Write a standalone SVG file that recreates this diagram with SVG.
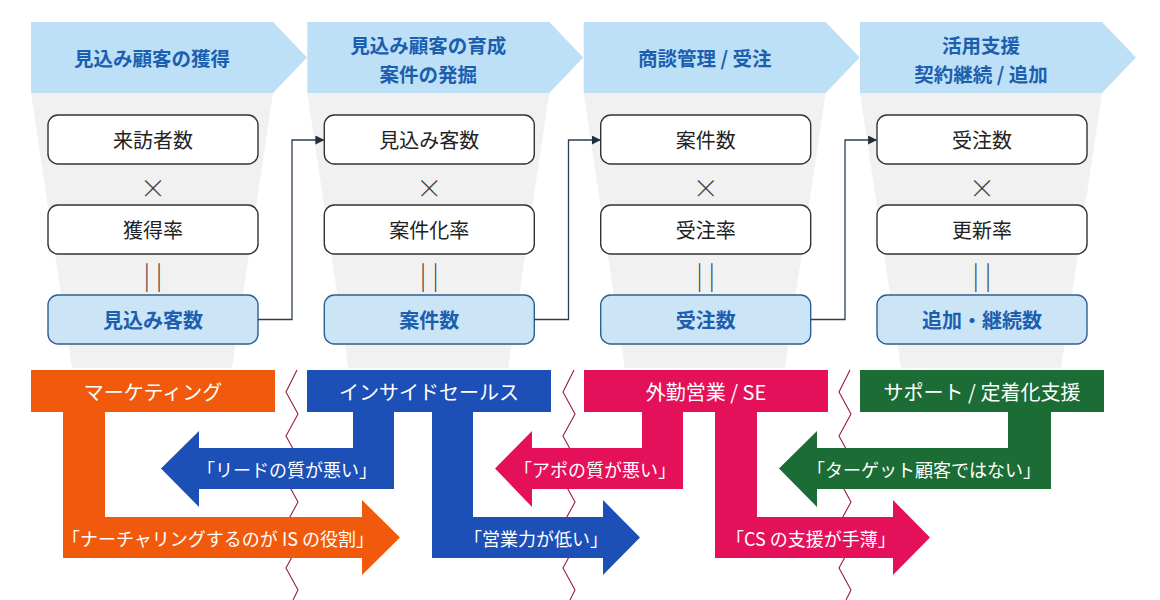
<svg xmlns="http://www.w3.org/2000/svg" width="1160" height="600" viewBox="0 0 1160 600">
<defs>
<style>
.hdr{fill:#bde0f7}
.fun{fill:#f1f1f1}
.box{fill:#ffffff;stroke:#333333;stroke-width:1.4}
.bbox{fill:#cbe5f7;stroke:#2f5f8f;stroke-width:1.4}
.t{font-family:'Noto Sans CJK JP','Noto Sans',sans-serif;text-anchor:middle;dominant-baseline:central}
.ht{font-size:19.5px;font-weight:700;fill:#1b5fae}
.bt{font-size:20px;fill:#222222}
.bbt{font-size:20px;font-weight:700;fill:#1b5fae}
.op{font-size:26px;font-weight:300;fill:#444444}
.wt{font-size:20px;fill:#ffffff}
.at{font-size:18px;fill:#ffffff}
.zz{fill:none;stroke:#9a1c46;stroke-width:1.1}
.con{fill:none;stroke:#2c3e50;stroke-width:1.3}
</style>
<marker id="ah" viewBox="0 0 10 10" refX="9" refY="5" markerWidth="9" markerHeight="9" markerUnits="userSpaceOnUse" orient="auto">
<path d="M0,0 L10,5 L0,10 Z" fill="#1f2d3d"/>
</marker>
</defs>
<rect width="1160" height="600" fill="#ffffff"/>

<g id="funnels">
<polygon class="fun" points="31,93 273,93 232,368 72,368"/>
<polygon class="fun" points="307.3,93 549.3,93 508.3,368 348.3,368"/>
<polygon class="fun" points="583.7,93 825.7,93 784.7,368 624.7,368"/>
<polygon class="fun" points="860,93 1102,93 1061,368 901,368"/>
</g>

<g id="header1">
<polygon class="hdr" points="31,22 273,22 307,57.5 273,93 31,93"/>
<text class="t ht" x="152" y="57.5">見込み顧客の獲得</text>
</g>
<g id="header2">
<polygon class="hdr" points="307.3,22 549.3,22 583.3,57.5 549.3,93 307.3,93"/>
<text class="t ht" x="428.3" y="44.5">見込み顧客の育成</text>
<text class="t ht" x="428.3" y="73">案件の発掘</text>
</g>
<g id="header3">
<polygon class="hdr" points="583.7,22 825.7,22 859.7,57.5 825.7,93 583.7,93"/>
<text class="t ht" x="704.7" y="57.5">商談管理 / 受注</text>
</g>
<g id="header4">
<polygon class="hdr" points="860,22 1102,22 1136,57.5 1102,93 860,93"/>
<text class="t ht" x="981" y="44.5">活用支援</text>
<text class="t ht" x="981" y="73">契約継続 / 追加</text>
</g>

<g id="c1-visitors"><rect class="box" x="48" y="115" width="210" height="49" rx="10"/><text class="t bt" x="153" y="139.5">来訪者数</text></g>
<text class="t op" x="153" y="186">×</text>
<g id="c1-rate"><rect class="box" x="48" y="205" width="210" height="49" rx="10"/><text class="t bt" x="153" y="229.5">獲得率</text></g>
<text class="t op" x="153" y="273">| |</text>
<g id="c1-result"><rect class="bbox" x="48" y="295" width="210" height="49" rx="10"/><text class="t bbt" x="153" y="319.5">見込み客数</text></g>

<g id="c2-prospects"><rect class="box" x="324.3" y="115" width="210" height="49" rx="10"/><text class="t bt" x="429.3" y="139.5">見込み客数</text></g>
<text class="t op" x="429.3" y="186">×</text>
<g id="c2-rate"><rect class="box" x="324.3" y="205" width="210" height="49" rx="10"/><text class="t bt" x="429.3" y="229.5">案件化率</text></g>
<text class="t op" x="429.3" y="273">| |</text>
<g id="c2-result"><rect class="bbox" x="324.3" y="295" width="210" height="49" rx="10"/><text class="t bbt" x="429.3" y="319.5">案件数</text></g>

<g id="c3-deals"><rect class="box" x="600.7" y="115" width="210" height="49" rx="10"/><text class="t bt" x="705.7" y="139.5">案件数</text></g>
<text class="t op" x="705.7" y="186">×</text>
<g id="c3-rate"><rect class="box" x="600.7" y="205" width="210" height="49" rx="10"/><text class="t bt" x="705.7" y="229.5">受注率</text></g>
<text class="t op" x="705.7" y="273">| |</text>
<g id="c3-result"><rect class="bbox" x="600.7" y="295" width="210" height="49" rx="10"/><text class="t bbt" x="705.7" y="319.5">受注数</text></g>

<g id="c4-orders"><rect class="box" x="877" y="115" width="210" height="49" rx="10"/><text class="t bt" x="982" y="139.5">受注数</text></g>
<text class="t op" x="982" y="186">×</text>
<g id="c4-rate"><rect class="box" x="877" y="205" width="210" height="49" rx="10"/><text class="t bt" x="982" y="229.5">更新率</text></g>
<text class="t op" x="982" y="273">| |</text>
<g id="c4-result"><rect class="bbox" x="877" y="295" width="210" height="49" rx="10"/><text class="t bbt" x="982" y="319.5">追加・継続数</text></g>

<g id="connectors">
<path class="con" d="M258,319.5 H292 V140 H323.5" marker-end="url(#ah)"/>
<path class="con" d="M534.3,319.5 H568.5 V140 H599.9" marker-end="url(#ah)"/>
<path class="con" d="M810.7,319.5 H845 V140 H876.2" marker-end="url(#ah)"/>
</g>

<g id="dividers">
<polyline class="zz" points="297,370 286,392 298,414 286,436 298,458 286,480 298,502 286,524 298,546 286,568 298,590 293,600"/>
<polyline class="zz" points="574,370 563,392 575,414 563,436 575,458 563,480 575,502 563,524 575,546 563,568 575,590 570,600"/>
<polyline class="zz" points="850,370 839,392 851,414 839,436 851,458 839,480 851,502 839,524 851,546 839,568 851,590 846,600"/>
</g>

<g id="marketing">
<rect x="31" y="370" width="244" height="42" fill="#f15a0c"/>
<path d="M63,412 H105 V517 H362 V500 L400,537.5 L362,575 V558 H63 Z" fill="#f15a0c"/>
<text class="t wt" x="153" y="391">マーケティング</text>
<text class="t at" x="218" y="537.5">「ナーチャリングするのが IS の役割」</text>
</g>

<g id="inside-sales">
<rect x="307" y="370" width="244" height="42" fill="#1c50b6"/>
<path d="M353,412 H394 V489 H199 V507 L161,468.5 L199,431 V448 H353 Z" fill="#1c50b6"/>
<path d="M432,412 H473 V517 H603 V500 L640,537.5 L603,575 V558 H432 Z" fill="#1c50b6"/>
<text class="t wt" x="429" y="391">インサイドセールス</text>
<text class="t at" x="287" y="468.5">「リードの質が悪い」</text>
<text class="t at" x="536" y="537.5">「営業力が低い」</text>
</g>

<g id="field-sales">
<rect x="584" y="370" width="244" height="42" fill="#e4115a"/>
<path d="M642,412 H683 V489 H532 V507 L495,468.5 L532,431 V448 H642 Z" fill="#e4115a"/>
<path d="M715,412 H757 V517 H893 V500 L930,537.5 L893,575 V558 H715 Z" fill="#e4115a"/>
<text class="t wt" x="706" y="391">外勤営業 / SE</text>
<text class="t at" x="595" y="468.5">「アポの質が悪い」</text>
<text class="t at" x="811" y="537.5">「CS の支援が手薄」</text>
</g>

<g id="support">
<rect x="860" y="370" width="244" height="42" fill="#1c6c35"/>
<path d="M1008,412 H1051 V489 H817 V507 L779,468.5 L817,431 V448 H1008 Z" fill="#1c6c35"/>
<text class="t wt" x="982" y="391">サポート / 定着化支援</text>
<text class="t at" x="924" y="468.5">「ターゲット顧客ではない」</text>
</g>
</svg>
